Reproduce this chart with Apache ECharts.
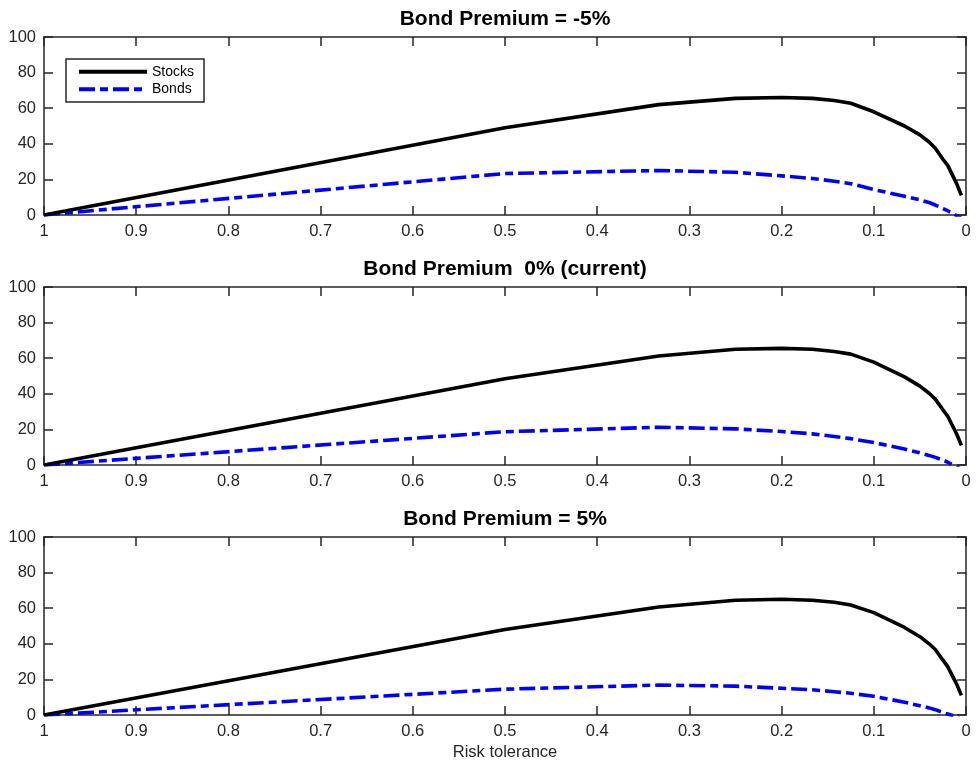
<!DOCTYPE html>
<html>
<head>
<meta charset="utf-8">
<script src="https://cdn.jsdelivr.net/npm/echarts@6.0.0/dist/echarts.min.js"></script>
<style>
  html, body { margin: 0; padding: 0; background: #fff; }
  #chart { width: 977px; height: 762px; }
</style>
</head>
<body>
<div id="chart"></div>
<script>
// risk tolerance (x) shared by all panels
const tolerance = [1, 0.5, 0.3333, 0.25, 0.2, 0.1667, 0.1429, 0.125, 0.1, 0.0667, 0.05, 0.04, 0.0333, 0.025, 0.02, 0.01, 0.005];

const panelTitles = ["Bond Premium = -5%", "Bond Premium  0% (current)", "Bond Premium = 5%"];

const stocksMinus5 = [0, 49, 62, 65.5, 66, 65.5, 64.3, 62.8, 58, 50, 45, 41, 37.5, 31.3, 28, 17.5, 11];
const bondsMinus5  = [0, 23.3, 25, 24, 22, 20.5, 19, 17.6, 14.3, 10.5, 8.5, 7, 5.6, 3.6, 2.4, -0.4, -2];

const stocksZero = [0, 48.5, 61.2, 65, 65.5, 65, 63.8, 62.3, 57.8, 49.5, 44.3, 40.3, 37, 31, 27.5, 17.3, 11];
const bondsZero  = [0, 18.7, 21.2, 20.3, 18.8, 17.5, 16, 14.8, 12.6, 9, 6.8, 5.4, 4.3, 2.8, 1.6, -1, -2.5];

const stocksPlus5 = [0, 48, 60.7, 64.5, 65, 64.5, 63.3, 61.8, 57.5, 49.2, 44, 40, 36.8, 30.8, 27.3, 17.2, 11];
const bondsPlus5  = [0, 14.5, 16.8, 16.2, 15, 14.2, 13.1, 12.2, 10.5, 7.2, 5.2, 4, 3, 1.4, 0.6, -1, -3];

const xTicks = { min: 0, max: 1, interval: 0.1 };
const yTicks = { min: 0, max: 100, interval: 20 };

const panels = [
  { stocks: stocksMinus5, bonds: bondsMinus5 },
  { stocks: stocksZero, bonds: bondsZero },
  { stocks: stocksPlus5, bonds: bondsPlus5 },
];

const FONT = "Liberation Sans";
const AXIS_COLOR = "#262626";
const gridTops = [37, 287, 537];

const zip = (xs, ys) => xs.map((x, i) => [x, ys[i]]);

const chart = echarts.init(document.getElementById("chart"));

const grid = [];
const xAxis = [];
const yAxis = [];
const series = [];
const title = [];

const axisLine = { show: true, onZero: false, lineStyle: { color: AXIS_COLOR, width: 1.5 } };
const axisTick = { show: true, inside: true, length: 9, lineStyle: { color: AXIS_COLOR, width: 1.5 } };

panels.forEach((p, i) => {
  grid.push({ left: 44, right: 11, top: gridTops[i], height: 178 });

  title.push({
    text: panelTitles[i],
    left: 505,
    top: gridTops[i] - 28,
    textAlign: "center",
    padding: 0,
    textStyle: { fontFamily: FONT, fontWeight: "bold", fontSize: 21, color: "#000" },
  });

  const bottomX = {
    type: "value", gridIndex: i, inverse: true, position: "bottom",
    ...xTicks,
    axisLine, axisTick,
    axisLabel: { color: AXIS_COLOR, fontFamily: FONT, fontSize: 16.5, margin: 8 },
    splitLine: { show: false },
  };
  if (i === 2) {
    bottomX.name = "Risk tolerance";
    bottomX.nameLocation = "middle";
    bottomX.nameGap = 29;
    bottomX.nameTextStyle = { color: AXIS_COLOR, fontFamily: FONT, fontSize: 16.5 };
  }
  xAxis.push(bottomX);
  xAxis.push({
    type: "value", gridIndex: i, inverse: true, position: "top",
    ...xTicks,
    axisLine, axisTick,
    axisLabel: { show: false },
    splitLine: { show: false },
  });

  yAxis.push({
    type: "value", gridIndex: i, position: "left",
    ...yTicks,
    axisLine, axisTick,
    axisLabel: { color: AXIS_COLOR, fontFamily: FONT, fontSize: 16.5, margin: 8 },
    splitLine: { show: false },
  });
  yAxis.push({
    type: "value", gridIndex: i, position: "right",
    ...yTicks,
    axisLine, axisTick,
    axisLabel: { show: false },
    splitLine: { show: false },
  });

  series.push({
    name: "Stocks",
    type: "line",
    xAxisIndex: i * 2,
    yAxisIndex: i * 2,
    data: zip(tolerance, p.stocks),
    symbol: "none",
    clip: true,
    lineStyle: { color: "#000", width: 3.6 },
    itemStyle: { color: "#000" },
    z: 3,
  });
  series.push({
    name: "Bonds",
    type: "line",
    xAxisIndex: i * 2,
    yAxisIndex: i * 2,
    data: zip(tolerance, p.bonds),
    symbol: "none",
    clip: true,
    lineStyle: { color: "#0000ff", width: 3.6, type: [16, 5, 8, 5] },
    itemStyle: { color: "#0000ff" },
    z: 2,
  });
});

chart.setOption({
  animation: false,
  backgroundColor: "#fff",
  title,
  grid,
  xAxis,
  yAxis,
  series,
  legend: {
    data: ["Stocks", "Bonds"],
    orient: "vertical",
    left: 66,
    top: 59,
    itemWidth: 68,
    itemHeight: 14,
    itemGap: 3.6,
    padding: [5.7, 10, 5.7, 11],
    borderColor: AXIS_COLOR,
    borderWidth: 1.5,
    backgroundColor: "#fff",
    selectedMode: false,
    itemStyle: { opacity: 0 },
    lineStyle: { width: 4 },
    textStyle: { fontFamily: FONT, fontSize: 14, color: "#000" },
  },
});
</script>
</body>
</html>
